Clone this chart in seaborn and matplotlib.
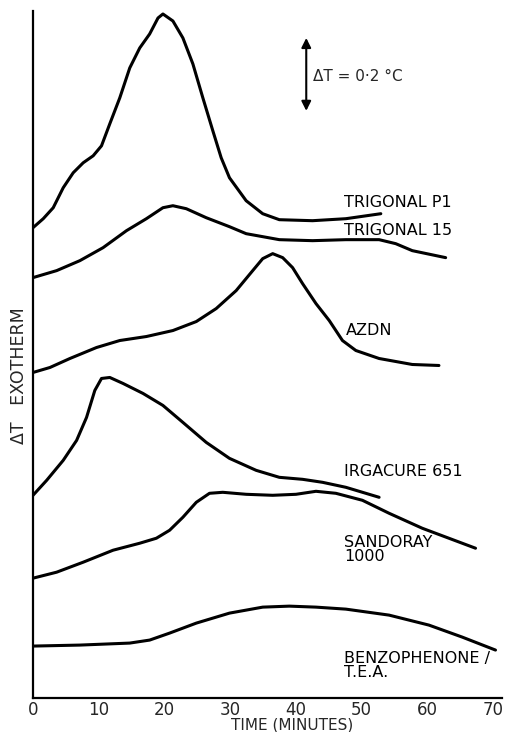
import numpy as np
import pandas as pd
import matplotlib
matplotlib.use("Agg")
import matplotlib.pyplot as plt
import seaborn as sns

# ---- data (time in minutes, height in chart units, curves already stacked) ----
p1_t = [0, 1.56, 3.08, 4.60, 6.12, 7.64, 9.16, 10.43, 11.69, 13.21, 14.73, 16.25, 17.76, 19.03, 19.78,
        21.30, 22.82, 24.34, 25.86, 27.38, 28.65, 29.91, 32.45, 34.97, 37.50, 42.56, 47.63, 52.95]
p1_h = [471, 480, 491, 511, 526, 536, 543, 553, 575, 601, 631, 651, 665, 681, 685,
        678, 661, 635, 601, 568, 541, 521, 498, 485, 479, 478, 480, 485]

t15_t = [0, 3.6, 7.14, 10.67, 14.23, 17.26, 19.78, 21.30, 23.34, 26.37, 29.91, 32.45, 37.50, 42.56,
         47.63, 52.69, 55.22, 57.74, 62.82]
t15_h = [421, 428, 438, 451, 468, 480, 491, 493, 490, 481, 472, 465, 459, 458,
         459, 459, 455, 448, 441]

azdn_t = [0, 2.58, 5.62, 9.67, 13.21, 17.26, 21.30, 24.86, 27.89, 30.93, 33.45, 34.97, 36.49, 38.01,
          39.52, 41.04, 43.08, 45.10, 47.11, 49.15, 52.69, 57.74, 61.80]
azdn_h = [326, 331, 340, 351, 358, 362, 368, 377, 390, 408, 428, 440, 445, 441,
          431, 415, 395, 378, 358, 348, 340, 334, 333]

irg_t = [0, 2.08, 4.60, 6.64, 8.15, 9.41, 10.43, 11.69, 13.71, 16.75, 19.78, 22.82, 26.37, 29.91,
         33.97, 37.50, 41.04, 44.08, 47.63, 52.69]
irg_h = [203, 218, 238, 258, 281, 308, 320, 321, 315, 305, 293, 276, 256, 240,
         228, 221, 219, 216, 211, 201]

sand_t = [0, 3.6, 7.64, 12.19, 16.25, 18.78, 20.80, 22.82, 24.86, 26.87, 28.89, 32.45, 36.49, 40.04,
          43.08, 46.11, 50.15, 54.21, 59.26, 67.37]
sand_h = [120, 126, 136, 148, 155, 160, 168, 181, 196, 205, 206, 204, 203, 204,
          207, 205, 198, 185, 170, 150]

benz_t = [0, 7.14, 14.73, 17.76, 20.80, 24.86, 29.91, 34.97, 39.02, 43.08, 47.63, 54.21, 60.28, 65.34, 70.41]
benz_h = [52, 53, 55, 58, 65, 75, 85, 91, 92, 91, 89, 83, 73, 61, 48]

names = ["TRIGONAL P1", "TRIGONAL 15", "AZDN", "IRGACURE 651", "SANDORAY\n1000", "BENZOPHENONE /\nT.E.A."]
label_pos_t = [47.4, 47.4, 47.7, 47.4, 47.4, 47.4]
label_pos_h = [496, 468, 368, 227, 149, 33]
x_ticks = [0, 10, 20, 30, 40, 50, 60, 70]

series = [(p1_t, p1_h), (t15_t, t15_h), (azdn_t, azdn_h), (irg_t, irg_h), (sand_t, sand_h), (benz_t, benz_h)]
frames = []
for nm, (tt, hh) in zip(names, series):
    frames.append(pd.DataFrame({"time": tt, "h": hh, "curve": nm}))
df = pd.concat(frames, ignore_index=True)

sns.set_style("white")
plt.rcParams['font.family'] = ['DejaVu Sans']

fig = plt.figure(figsize=(5.05, 7.32), dpi=100)
ax = fig.add_axes([33 / 505, 34 / 732, 469 / 505, 687 / 732])

for nm in names:
    sub = df[df["curve"] == nm]
    sns.lineplot(data=sub, x="time", y="h", ax=ax, color="black", linewidth=2.2,
                 estimator=None, sort=False, legend=False,
                 solid_joinstyle="round", solid_capstyle="round")

for nm, lt, lh in zip(names, label_pos_t, label_pos_h):
    ax.text(lt, lh, nm, fontsize=11.5, ha="left", va="center", linespacing=0.92, color="black")

# scale arrow
ax.annotate("", xy=(41.6, 661), xytext=(41.6, 588),
            arrowprops=dict(arrowstyle="<|-|>", color="black", lw=1.5,
                            mutation_scale=14, shrinkA=0, shrinkB=0))
ax.text(42.7, 622, "ΔT = 0·2 °C", fontsize=11, ha="left", va="center")

ax.set_xlim(0, 71.4)
ax.set_ylim(0, 688)
ax.set_xticks(x_ticks)
ax.set_xticklabels([str(v) for v in x_ticks], fontsize=12)
ax.set_yticks([])
ax.tick_params(axis="x", direction="in", length=9, width=1.5, pad=2, color="black")
for s in ["top", "right"]:
    ax.spines[s].set_visible(False)
for s in ["left", "bottom"]:
    ax.spines[s].set_linewidth(1.6)
    ax.spines[s].set_color("black")
ax.set_xlabel("TIME (MINUTES)", fontsize=11, labelpad=-1)
ax.xaxis.label.set_x((292 - 33) / 469)
ax.set_ylabel("")
fig.text(19 / 505, 1 - 376 / 732, "ΔT   EXOTHERM", rotation=90, ha="center", va="center", fontsize=12.5)

fig.savefig("out.png", dpi=100, facecolor="white")
